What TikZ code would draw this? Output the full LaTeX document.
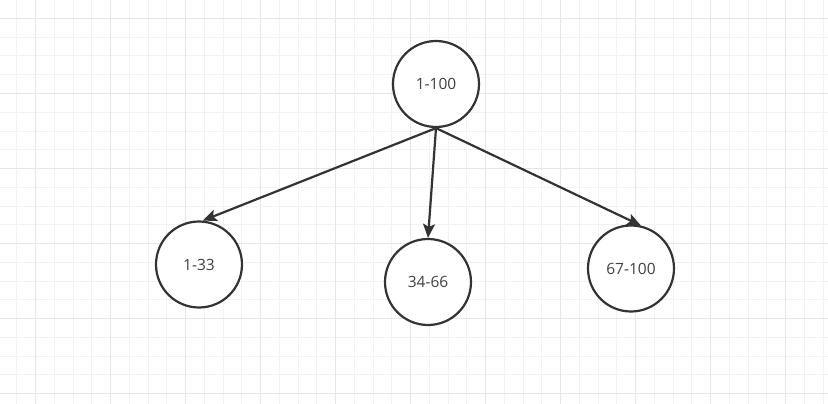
\documentclass[tikz,border=0pt]{standalone}
\usepackage{fontspec}
\setmainfont{Open Sans}
\usetikzlibrary{arrows.meta}
\definecolor{ink}{HTML}{333333}
\definecolor{txt}{HTML}{404040}
\definecolor{gminor}{HTML}{F2F2F2}
\definecolor{gmajor}{HTML}{E6E6E6}
\tikzset{
  treenode/.style={circle, draw=ink, line width=2.2pt, minimum size=86pt, inner sep=0pt, fill=white, text=txt, font=\fontsize{15.5}{18}\selectfont},
  link/.style={draw=ink, line width=2.2pt, -{Stealth[length=14pt, width=12pt, inset=3pt]}},
  gridminor/.style={draw=gminor, line width=1pt},
  gridmajor/.style={draw=gmajor, line width=1pt}
}
\begin{document}
\begin{tikzpicture}[x=1pt, y=-1pt]
\useasboundingbox (0,0) rectangle (828,404);
\fill[white] (0,0) rectangle (828,404);
\begin{scope}
\clip (0,0) rectangle (828,404);
\foreach \i in {-1,...,44} {
  \pgfmathsetmacro\xx{35.7+18.75*\i}
  \draw[gridminor] (\xx,0) -- (\xx,404);
}
\foreach \i in {-1,...,22} {
  \pgfmathsetmacro\yy{18.5+18.75*\i}
  \draw[gridminor] (0,\yy) -- (828,\yy);
}
\foreach \i in {0,...,11} {
  \pgfmathsetmacro\xx{35.7+75*\i}
  \draw[gridmajor] (\xx,0) -- (\xx,404);
}
\foreach \i in {0,...,5} {
  \pgfmathsetmacro\yy{18.5+75*\i}
  \draw[gridmajor] (0,\yy) -- (828,\yy);
}
\end{scope}
\node[treenode] (top) at (436,84) {1-100};
\node[treenode] (a) at (199,264.5) {1-33};
\node[treenode] (b) at (428,282) {34-66};
\node[treenode] (c) at (631,268.5) {67-100};
\draw[link] (top.south) -- (a.85);
\draw[link] (top.south) -- (b.north);
\draw[link] (top.south) -- (c.77);
\end{tikzpicture}
\end{document}
